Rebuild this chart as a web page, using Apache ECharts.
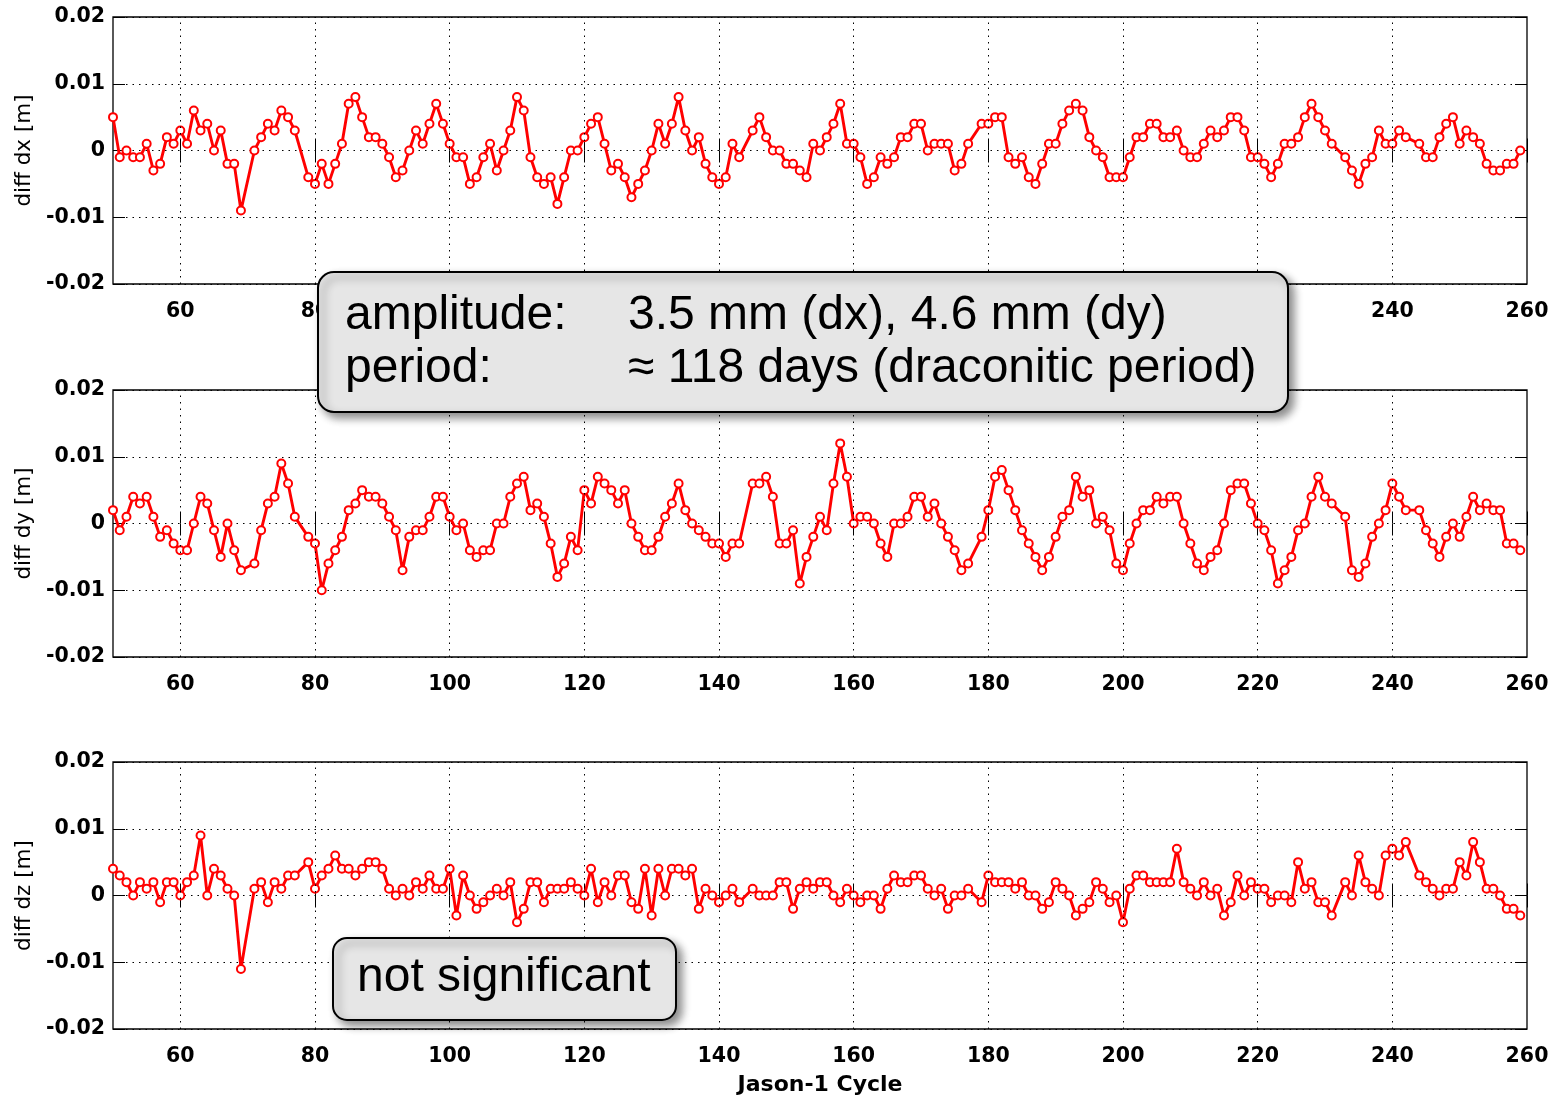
<!DOCTYPE html>
<html><head><meta charset="utf-8">
<script src="https://cdn.jsdelivr.net/npm/echarts@6/dist/echarts.min.js"></script>
<style>html,body{margin:0;padding:0;background:#fff}#c{width:1551px;height:1098px}</style>
</head><body><div id="c"></div>
<script>
// Jason-1 cycles (some cycles missing)
const cycles = [
 50,51,52,53,54,55,56,57,58,59,60,61,62,63,64,65,66,67,68,69,
 71,72,73,74,75,76,77,
 79,80,81,82,83,84,85,86,87,88,89,90,91,92,93,94,95,96,97,98,99,100,101,102,103,104,105,106,107,108,
 109,110,111,112,113,114,115,116,117,118,119,120,121,122,123,124,125,126,127,128,129,130,131,132,133,134,
 135,136,137,138,139,140,141,142,143,
 145,146,147,148,149,150,151,152,153,154,155,156,157,158,159,160,161,162,163,164,165,166,167,168,169,170,
 171,172,173,174,175,176,177,
 179,180,181,182,183,184,185,186,187,188,189,190,191,192,193,194,195,196,197,198,199,200,201,202,203,204,
 205,206,207,208,209,210,211,212,213,214,215,216,217,218,219,220,221,222,223,224,225,226,227,228,229,230,231,
 233,234,235,236,237,238,239,240,241,242,
 244,245,246,247,248,249,250,251,252,253,254,255,256,257,258,259
];
// values in millimetres (axis labels shown in metres)
const dxMm = [
 5,-1,0,-1,-1,1,-3,-2,2,1,3,1,6,3,4,0,3,-2,-2,-9,
 0,2,4,3,6,5,3,
 -4,-5,-2,-5,-2,1,7,8,5,2,2,1,-1,-4,-3,0,3,1,4,7,4,1,-1,-1,-5,-4,-1,1,-3,0,
 3,8,6,-1,-4,-5,-4,-8,-4,0,0,2,4,5,1,-3,-2,-4,-7,-5,-3,0,4,1,4,8,
 3,0,2,-2,-4,-5,-4,1,-1,
 3,5,2,0,0,-2,-2,-3,-4,1,0,2,4,7,1,1,-1,-5,-4,-1,-2,-1,2,2,4,4,
 0,1,1,1,-3,-2,1,
 4,4,5,5,-1,-2,-1,-4,-5,-2,1,1,4,6,7,6,2,0,-1,-4,-4,-4,-1,2,2,4,
 4,2,2,3,0,-1,-1,1,3,2,3,5,5,3,-1,-1,-2,-4,-2,1,1,2,5,7,5,3,1,
 -1,-3,-5,-2,-1,3,1,1,3,2,
 1,-1,-1,2,4,5,1,3,2,1,-2,-3,-3,-2,-2,0
];
const dyMm = [
 2,-1,1,4,3,4,1,-2,-1,-3,-4,-4,0,4,3,-1,-5,0,-4,-7,
 -6,-1,3,4,9,6,1,
 -2,-3,-10,-6,-4,-2,2,3,5,4,4,3,1,-1,-7,-2,-1,-1,1,4,4,1,-1,0,-4,-5,-4,-4,0,0,
 4,6,7,2,3,1,-3,-8,-6,-2,-4,5,3,7,6,5,3,5,0,-2,-4,-4,-2,1,3,6,
 2,0,-1,-2,-3,-3,-5,-3,-3,
 6,6,7,4,-3,-3,-1,-9,-5,-2,1,-1,6,12,7,0,1,1,0,-3,-5,0,0,1,4,4,
 1,3,0,-2,-4,-7,-6,
 -2,2,7,8,5,2,-1,-3,-5,-7,-5,-2,1,2,7,4,5,0,1,-1,-6,-7,-3,0,2,2,
 4,3,4,4,0,-3,-6,-7,-5,-4,0,5,6,6,3,0,-1,-4,-9,-7,-5,-1,0,4,7,4,3,
 1,-7,-8,-6,-2,0,2,6,4,2,
 2,-1,-3,-5,-2,0,-2,1,4,2,3,2,2,-3,-3,-4
];
const dzMm = [
 4,3,2,0,2,1,2,-1,2,2,0,2,3,9,0,4,3,1,0,-11,
 1,2,-1,2,1,3,3,
 5,1,3,4,6,4,4,3,4,5,5,4,1,0,1,0,2,1,3,1,1,4,-3,3,0,-2,-1,0,1,0,
 2,-4,-2,2,2,-1,1,1,1,2,1,0,4,-1,2,0,3,3,-1,-2,4,-3,4,0,4,4,
 3,4,-2,1,0,-1,0,1,-1,
 1,0,0,0,2,2,-2,1,2,1,2,2,0,-1,1,0,-1,0,0,-2,1,3,2,2,3,3,
 1,0,1,-2,0,0,1,
 -1,3,2,2,2,1,2,0,0,-2,-1,2,1,0,-3,-2,-1,2,1,-1,0,-4,1,3,3,2,
 2,2,2,7,2,1,0,2,0,1,-3,-1,3,0,2,1,1,-1,0,0,-1,5,1,2,-1,-1,-3,
 2,0,6,2,1,0,6,7,6,8,
 3,2,1,0,1,1,5,3,8,5,1,1,0,-2,-2,-3
];
const xTicks = [60,80,100,120,140,160,180,200,220,240,260];
const yTicks = [-20,-10,0,10,20];
const yTickLabels = ['-0.02','-0.01','0','0.01','0.02'];
const yNames = ['diff dx [m]','diff dy [m]','diff dz [m]'];
const xName = 'Jason-1 Cycle';
const note1 = [['amplitude:','3.5 mm (dx), 4.6 mm (dy)'],['period:','\u2248 118 days (draconitic period)']];
const note2 = 'not significant';

const series3 = [dxMm, dyMm, dzMm];
const tops = [17, 390, 762];
const FONT = '"DejaVu Sans", "Liberation Sans", Arial, sans-serif';

const grid = [], xAxis = [], yAxis = [], series = [];
tops.forEach((t, i) => {
  grid.push({left:113, top:t, width:1414, height:267, show:true, borderColor:'#000', borderWidth:1.3,
    backgroundColor:'transparent', containLabel:false, outerBoundsMode:'none'});
  xAxis.push({
    type:'value', gridIndex:i, min:50, max:260, position:'bottom',
    axisLine:{show:false},
    axisTick:{show:true, inside:true, length:12, customValues:xTicks, lineStyle:{color:'#000', width:1}},
    axisLabel:{show:true, customValues:xTicks, color:'#000', fontSize:20.5, fontWeight:'bold', fontFamily:FONT, margin:17},
    splitLine:{show:false},
    name: i === 2 ? xName : '', nameLocation:'middle', nameGap:45,
    nameTextStyle:{color:'#000', fontSize:22, fontWeight:'bold', fontFamily:FONT}
  });
  xAxis.push({
    type:'value', gridIndex:i, min:50, max:260, position:'top',
    axisLine:{show:false},
    axisTick:{show:true, inside:true, length:12, customValues:xTicks, lineStyle:{color:'#000', width:1}},
    axisLabel:{show:false}, splitLine:{show:false}
  });
  yAxis.push({
    type:'value', gridIndex:i, min:-20, max:20, interval:10, position:'left',
    axisLine:{show:false},
    axisTick:{show:true, inside:true, length:12, lineStyle:{color:'#000', width:1}},
    axisLabel:{color:'#000', fontSize:20.5, fontWeight:'bold', fontFamily:FONT, margin:8,
      formatter: v => yTickLabels[yTicks.indexOf(Math.round(v))]},
    splitLine:{show:true, lineStyle:{color:'#000', width:1, type:[1.5,5]}},
    name: yNames[i], nameLocation:'middle', nameGap:78,
    nameTextStyle:{color:'#000', fontSize:21.5, fontFamily:FONT}
  });
  yAxis.push({
    type:'value', gridIndex:i, min:-20, max:20, interval:10, position:'right',
    axisLine:{show:false},
    axisTick:{show:true, inside:true, length:12, lineStyle:{color:'#000', width:1}},
    axisLabel:{show:false}, splitLine:{show:false}
  });
  // vertical dotted grid lines
  series.push({
    type:'line', xAxisIndex:2*i, yAxisIndex:2*i, data:[], silent:true, z:1,
    markLine:{silent:true, symbol:['none','none'], label:{show:false}, animation:false,
      lineStyle:{color:'#000', width:1, type:[1.5,5]},
      emphasis:{disabled:true},
      data: xTicks.filter(v => v < 260).map(v => ({xAxis:v}))}
  });
  series.push({
    type:'line', xAxisIndex:2*i, yAxisIndex:2*i, z:3,
    data: cycles.map((c, k) => [c, series3[i][k]]),
    symbol:'circle', symbolSize:8, showSymbol:true,
    lineStyle:{color:'#ff0000', width:2.9},
    itemStyle:{color:'#ffffff', borderColor:'#ff0000', borderWidth:2},
    emphasis:{disabled:true}, animation:false
  });
});

const boxFont = 'normal 48px "Liberation Sans", Arial, sans-serif';
const graphic = [
  {type:'rect', z:100, shape:{x:318, y:272, width:970, height:140, r:16},
   style:{fill:'#e6e6e6', stroke:'#000', lineWidth:2, shadowBlur:8, shadowOffsetX:5, shadowOffsetY:5, shadowColor:'rgba(0,0,0,0.45)'}},
  {type:'text', z:101, x:345, y:316, style:{text:note1[0][0], font:boxFont, fill:'#000', verticalAlign:'middle'}},
  {type:'text', z:101, x:628, y:316, style:{text:note1[0][1], font:boxFont, fill:'#000', verticalAlign:'middle'}},
  {type:'text', z:101, x:345, y:369, style:{text:note1[1][0], font:boxFont, fill:'#000', verticalAlign:'middle'}},
  {type:'text', z:101, x:628, y:369, style:{text:note1[1][1], font:boxFont, fill:'#000', verticalAlign:'middle'}},
  {type:'rect', z:100, shape:{x:333, y:938, width:343, height:82, r:14},
   style:{fill:'#e6e6e6', stroke:'#000', lineWidth:2, shadowBlur:8, shadowOffsetX:5, shadowOffsetY:5, shadowColor:'rgba(0,0,0,0.45)'}},
  {type:'text', z:101, x:357, y:978, style:{text:note2, font:boxFont, fill:'#000', verticalAlign:'middle'}}
];

const chart = echarts.init(document.getElementById('c'), null, {renderer:'canvas'});
chart.setOption({animation:false, backgroundColor:'#fff', grid, xAxis, yAxis, series, graphic});
</script></body></html>
